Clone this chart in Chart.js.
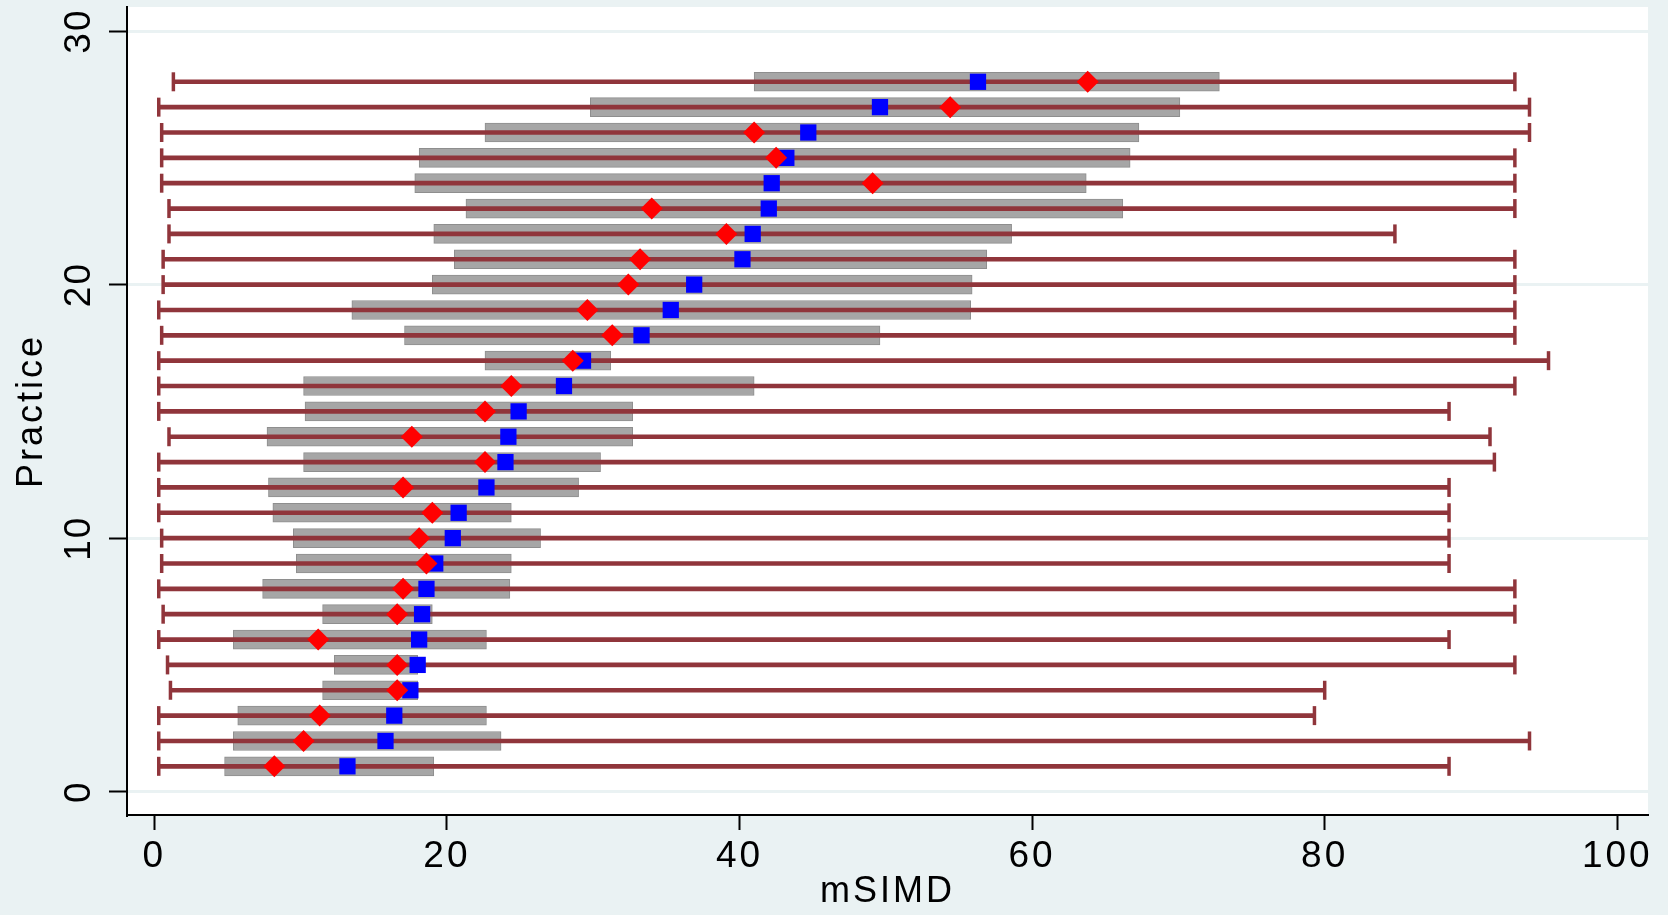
<!DOCTYPE html>
<html lang="en">
<head>
<meta charset="UTF-8">
<title>mSIMD by practice</title>
<script src="https://cdn.jsdelivr.net/npm/chart.js"></script>
<style>
  html, body { margin: 0; padding: 0; background: #eaf2f3; }
</style>
</head>
<body>
<canvas id="chart" width="1668" height="915"></canvas>
<script>
// practices 1..28 (bottom to top)
const practice = [1, 2, 3, 4, 5, 6, 7, 8, 9, 10, 11, 12, 13, 14, 15, 16, 17, 18, 19, 20, 21, 22, 23, 24, 25, 26, 27, 28];
const minVal = [0.3, 0.3, 0.3, 1.1, 0.9, 0.3, 0.6, 0.3, 0.5, 0.5, 0.3, 0.3, 0.3, 1.0, 0.3, 0.3, 0.3, 0.5, 0.3, 0.6, 0.6, 1.0, 1.0, 0.5, 0.5, 0.5, 0.3, 1.3];
const maxVal = [88.5, 94.0, 79.3, 80.0, 93.0, 88.5, 93.0, 93.0, 88.5, 88.5, 88.5, 88.5, 91.6, 91.3, 88.5, 93.0, 95.3, 93.0, 93.0, 93.0, 93.0, 84.8, 93.0, 93.0, 93.0, 94.0, 94.0, 93.0];
const q1Val = [4.8, 5.4, 5.7, 11.5, 12.3, 5.4, 11.5, 7.4, 9.7, 9.5, 8.1, 7.8, 10.2, 7.7, 10.3, 10.2, 22.6, 17.1, 13.5, 19.0, 20.5, 19.1, 21.3, 17.8, 18.1, 22.6, 29.8, 41.0];
const q3Val = [19.1, 23.7, 22.7, 18.0, 18.0, 22.7, 19.0, 24.3, 24.4, 26.4, 24.4, 29.0, 30.5, 32.7, 32.7, 41.0, 31.2, 49.6, 55.8, 55.9, 56.9, 58.6, 66.2, 63.7, 66.7, 67.3, 70.1, 72.8];
const meanVal = [13.2, 15.8, 16.4, 17.5, 18.0, 18.1, 18.3, 18.6, 19.2, 20.4, 20.8, 22.7, 24.0, 24.2, 24.9, 28.0, 29.3, 33.3, 35.3, 36.9, 40.2, 40.9, 42.0, 42.2, 43.2, 44.7, 49.6, 56.3];
const medianVal = [8.2, 10.2, 11.3, 16.6, 16.6, 11.2, 16.6, 17.0, 18.6, 18.1, 19.0, 17.0, 22.6, 17.6, 22.6, 24.4, 28.6, 31.3, 29.6, 32.4, 33.2, 39.1, 34.0, 49.1, 42.5, 41.0, 54.4, 63.8];

const xTicks = [0, 20, 40, 60, 80, 100];
const yTicks = [0, 10, 20, 30];

const FONT = 'Liberation Sans';
const bgColor = '#eaf2f3';
const cranberry = '#90353b';

const pts = (xs) => practice.map((p, i) => ({ x: xs[i], y: p }));
const spans = (a, b) => practice.map((p, i) => ({ x: [a[i], b[i]], y: p }));

// Stata-like background, plot region and rotated y tick labels
const stataLook = {
    id: 'stataLook',
    beforeDraw(chart) {
        const { ctx, chartArea: a } = chart;
        ctx.save();
        ctx.fillStyle = bgColor;
        ctx.fillRect(0, 0, chart.width, chart.height);
        ctx.fillStyle = '#ffffff';
        ctx.fillRect(a.left, a.top, a.right - a.left, a.bottom - a.top);
        ctx.restore();
        ctx.letterSpacing = '3px';
    },
    afterDraw(chart) {
        const { ctx } = chart;
        const ys = chart.scales.y;
        ctx.save();
        ctx.letterSpacing = '2px';
        ctx.font = '37px "' + FONT + '"';
        ctx.fillStyle = '#000';
        ctx.textAlign = 'center';
        ctx.textBaseline = 'middle';
        ys.ticks.forEach(t => {
            ctx.save();
            ctx.translate(80, ys.getPixelForValue(t.value));
            ctx.rotate(-Math.PI / 2);
            ctx.fillText(String(t.value), 0, 0);
            ctx.restore();
        });
        ctx.restore();
    }
};

new Chart(document.getElementById('chart'), {
    type: 'scatter',
    data: {
        datasets: [
            {
                label: 'median',
                data: pts(medianVal),
                pointStyle: 'rectRot',
                radius: 11,
                backgroundColor: '#ff0000',
                borderColor: '#ff0000',
                borderWidth: 0,
                order: 0
            },
            {
                label: 'mean',
                data: pts(meanVal),
                pointStyle: 'rect',
                radius: 11.5,
                backgroundColor: '#0000ff',
                borderColor: '#0000ff',
                borderWidth: 0,
                order: 1
            },
            {
                label: 'min',
                data: pts(minVal),
                pointStyle: 'line',
                rotation: 90,
                radius: 9.5,
                borderColor: cranberry,
                borderWidth: 3.5,
                order: 2
            },
            {
                label: 'max',
                data: pts(maxVal),
                pointStyle: 'line',
                rotation: 90,
                radius: 9.5,
                borderColor: cranberry,
                borderWidth: 3.5,
                order: 2
            },
            {
                type: 'bar',
                label: 'range',
                indexAxis: 'y',
                grouped: false,
                data: spans(minVal, maxVal),
                backgroundColor: cranberry,
                borderWidth: 0,
                barPercentage: 1,
                categoryPercentage: 1,
                maxBarThickness: 4,
                order: 3
            },
            {
                type: 'bar',
                label: 'iqr',
                indexAxis: 'y',
                grouped: false,
                data: spans(q1Val, q3Val),
                backgroundColor: '#a6a6a6',
                borderColor: '#8e8e8e',
                borderWidth: 1,
                borderSkipped: false,
                barPercentage: 1,
                categoryPercentage: 1,
                maxBarThickness: 19,
                order: 4
            }
        ]
    },
    options: {
        responsive: false,
        animation: false,
        layout: { autoPadding: false, padding: { top: 7, right: 20, left: 0, bottom: 0 } },
        plugins: {
            legend: { display: false },
            tooltip: { enabled: false }
        },
        scales: {
            x: {
                type: 'linear',
                min: -1.87,
                max: 102.1,
                offset: false,
                afterBuildTicks: s => { s.ticks = xTicks.map(v => ({ value: v })); },
                afterFit: s => { s.height = 100; s.paddingLeft = 0; s.paddingRight = 0; },
                border: { display: true, color: '#000', width: 2 },
                grid: { offset: false, drawOnChartArea: false, drawTicks: true, tickLength: 15, tickColor: '#000', tickWidth: 2 },
                ticks: { color: '#000', padding: 8, maxRotation: 0, font: { family: FONT, size: 37, lineHeight: 1 } },
                title: {
                    display: true,
                    text: 'mSIMD',
                    color: '#000',
                    font: { family: FONT, size: 36, lineHeight: 1 },
                    padding: { top: 0, bottom: 5 }
                }
            },
            y: {
                type: 'linear',
                min: -0.92,
                max: 30.95,
                offset: false,
                afterBuildTicks: s => { s.ticks = yTicks.map(v => ({ value: v })); },
                afterFit: s => { s.width = 127; s.paddingTop = 0; s.paddingBottom = 0; },
                border: { display: true, color: '#000', width: 2 },
                grid: { offset: false, color: bgColor, lineWidth: 3, drawTicks: true, tickLength: 18, tickColor: '#000', tickWidth: 2 },
                ticks: { display: false },
                title: {
                    display: true,
                    text: 'Practice',
                    color: '#000',
                    font: { family: FONT, size: 36, lineHeight: 1 },
                    padding: { top: 14, bottom: 0 }
                }
            }
        }
    },
    plugins: [stataLook]
});
</script>
</body>
</html>
